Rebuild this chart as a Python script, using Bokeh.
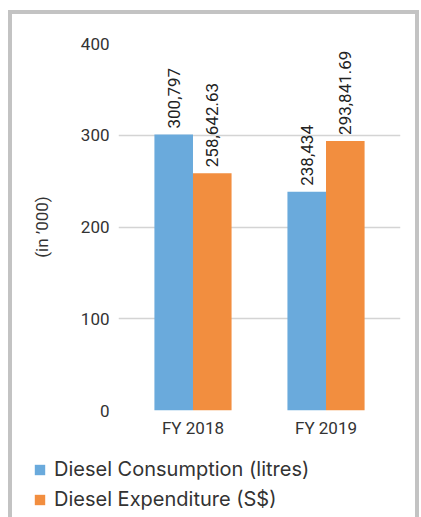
from bokeh.plotting import figure
from bokeh.models import ColumnDataSource, FactorRange, Legend, LegendItem
from bokeh.transform import dodge
from bokeh.core.properties import value
from bokeh.embed import file_html
from bokeh.resources import INLINE
import math

# ---- data (values in '000) ----
years = ["FY 2018", "FY 2019"]
consumption = [300.797, 238.434]
expenditure = [258.64263, 293.84169]
consumption_labels = ["300,797", "238,434"]
expenditure_labels = ["258,642.63", "293,841.69"]
series_names = ["Diesel Consumption (litres)", "Diesel Expenditure (S$)"]
y_ticks = [0, 100, 200, 300, 400]

BLUE = "#6aaadc"
ORANGE = "#f28e3f"
NARROW = "Roboto"
GRAY = "#c3c3c3"

side_shadow = (f"inset 8px 0 0 0 #ffffff, inset -2px 0 0 0 #ffffff, "
               f"inset 12px 0 0 0 {GRAY}, inset -6px 0 0 0 {GRAY}")
top_shadow = (f"inset 0 10px 0 0 #ffffff, " + side_shadow +
              f", inset 0 14px 0 0 {GRAY}")

src = ColumnDataSource(dict(
    year=years, cons=consumption, exp=expenditure,
    cons_lab=consumption_labels, exp_lab=expenditure_labels,
))

p = figure(
    width=421, height=455,
    x_range=FactorRange(factors=years, range_padding=0.06),
    y_range=(0, 400),
    output_backend="svg", toolbar_location=None,
    min_border_left=118, min_border_right=21,
    min_border_top=43, min_border_bottom=45,
    styles={"box-shadow": top_shadow},
)
p.outline_line_color = None
p.background_fill_alpha = 0
p.border_fill_alpha = 0

bw = 0.29
r1 = p.vbar(x=dodge("year", -bw / 2, range=p.x_range), top="cons", width=bw,
            source=src, fill_color=BLUE, line_color=None)
r2 = p.vbar(x=dodge("year", bw / 2, range=p.x_range), top="exp", width=bw,
            source=src, fill_color=ORANGE, line_color=None)

for col, lab, off in (("cons", "cons_lab", -bw / 2), ("exp", "exp_lab", bw / 2)):
    p.text(x=dodge("year", off, range=p.x_range), y=col, text=lab, source=src,
           angle=math.pi / 2, text_align="left", text_baseline="middle",
           y_offset=-6, text_font=value(NARROW), text_font_size="17px",
           text_color="#222222")

# axes
p.yaxis.ticker = y_ticks
p.yaxis.axis_line_color = None
p.yaxis.major_tick_line_color = None
p.yaxis.minor_tick_line_color = None
p.yaxis.major_label_text_font = NARROW
p.yaxis.major_label_text_font_size = "17px"
p.yaxis.major_label_text_color = "#333333"
p.yaxis.major_label_standoff = 3
p.yaxis.axis_label = "(in \u2019000)"
p.yaxis.axis_label_text_font = NARROW
p.yaxis.axis_label_text_font_size = "17px"
p.yaxis.axis_label_text_font_style = "normal"
p.yaxis.axis_label_text_color = "#333333"
p.yaxis.axis_label_standoff = 26

p.xaxis.axis_line_color = None
p.xaxis.major_tick_line_color = None
p.xaxis.minor_tick_line_color = None
p.xaxis.major_label_text_font = NARROW
p.xaxis.major_label_text_font_size = "17px"
p.xaxis.major_label_text_color = "#333333"
p.xaxis.major_label_standoff = 1

p.xgrid.grid_line_color = None
p.ygrid.grid_line_color = "#d4d4d4"
p.ygrid.grid_line_width = 1.5

# legend panel (separate root; keys are hidden copies of the series bars)
lg = figure(width=421, height=62,
            x_range=FactorRange(factors=years), y_range=(0, 1),
            output_backend="svg", toolbar_location=None,
            x_axis_location=None, y_axis_location=None,
            min_border=0, styles={"box-shadow": side_shadow})
lg.outline_line_color = None
lg.background_fill_alpha = 0
lg.border_fill_alpha = 0
lg.grid.visible = False
k1 = lg.vbar(x="year", top="cons", width=bw, source=src,
             fill_color=BLUE, line_color=None, visible=False)
k2 = lg.vbar(x="year", top="exp", width=bw, source=src,
             fill_color=ORANGE, line_color=None, visible=False)
legend = Legend(items=[LegendItem(label=series_names[0], renderers=[k1]),
                       LegendItem(label=series_names[1], renderers=[k2])],
                location=(33, 6), orientation="vertical",
                glyph_width=13, glyph_height=13, label_standoff=8, spacing=6,
                padding=0, margin=0, border_line_color=None,
                background_fill_alpha=0, inactive_fill_alpha=0,
                label_text_font="Inter", label_text_font_size="20px",
                label_text_color="#333333")
lg.add_layout(legend, "center")

open("out.html", "w").write(file_html([p, lg], INLINE))
